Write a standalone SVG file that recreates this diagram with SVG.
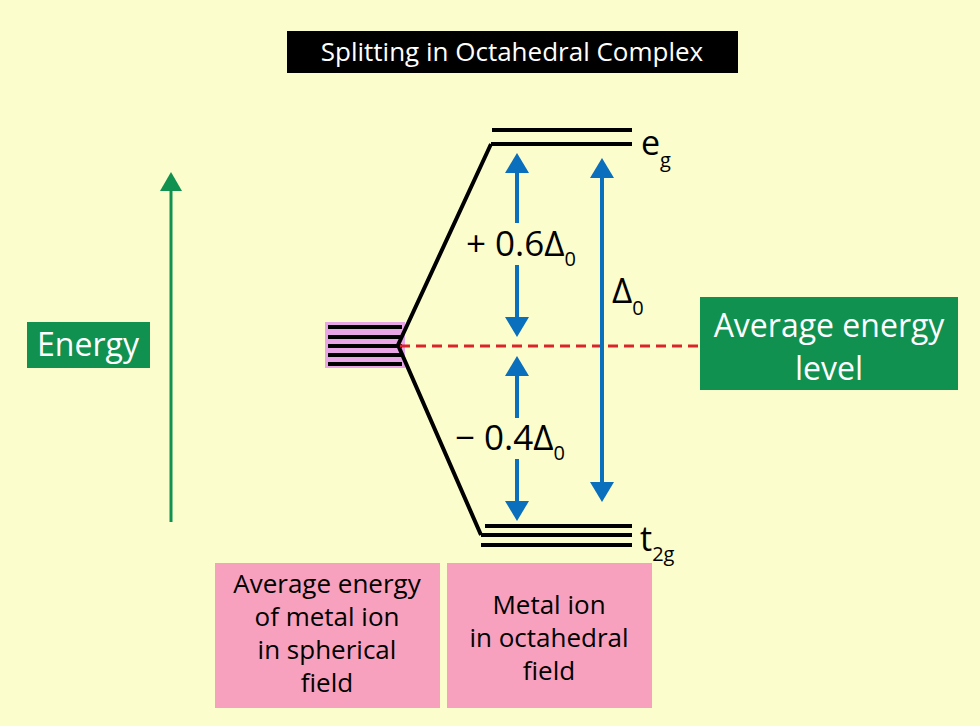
<svg xmlns="http://www.w3.org/2000/svg" width="980" height="726" viewBox="0 0 980 726">
<defs>
<style>
text{font-family:"Open Sans","Liberation Sans",sans-serif;}
.lvl{stroke:#000;stroke-width:4;fill:none}
.blue{stroke:#0a6fbd;stroke-width:4}
.bh{fill:#0a6fbd}
.lbl{font-size:35px;fill:#000}
.sub{font-size:20px}
.wt{fill:#fff;font-size:32px;text-anchor:middle}
.pk{fill:#000;font-size:26px;text-anchor:middle}
</style>
</defs>
<rect width="980" height="726" fill="#fbfdcc"/>
<g id="title"><rect x="287" y="31" width="451" height="42" fill="#000"/><text x="512" y="61" fill="#fff" font-size="26" text-anchor="middle">Splitting in Octahedral Complex</text></g>
<g id="energy-axis"><line x1="171" y1="522" x2="171" y2="190" stroke="#119150" stroke-width="3"/><polygon points="171,172 160,191 182,191" fill="#119150"/></g>
<g id="energy"><rect x="27" y="322" width="123" height="46" fill="#119150"/><text x="88" y="356" class="wt">Energy</text></g>
<g id="avg-level"><rect x="700" y="297" width="258" height="93" fill="#119150"/><text x="829" y="337" class="wt">Average energy</text><text x="829" y="380" class="wt">level</text></g>
<g id="spherical"><rect x="325" y="322" width="80" height="46" fill="#e9a6e6"/>
<g class="lvl" stroke-width="3.5"><line x1="328" y1="327" x2="402" y2="327"/><line x1="328" y1="337" x2="402" y2="337"/><line x1="328" y1="346" x2="402" y2="346"/><line x1="328" y1="355" x2="402" y2="355"/><line x1="328" y1="364" x2="402" y2="364"/></g></g>
<g id="eg"><line class="lvl" x1="492" y1="130" x2="632" y2="130"/><line class="lvl" x1="491" y1="144" x2="632" y2="144"/><text x="641" y="155" font-size="34">e<tspan class="sub" dy="12">g</tspan></text></g>
<g id="t2g"><line class="lvl" x1="485" y1="526" x2="632" y2="526"/><line class="lvl" x1="481" y1="535" x2="632" y2="535"/><line class="lvl" x1="481" y1="545" x2="632" y2="545"/><text x="640" y="551" font-size="34">t<tspan class="sub" dy="10">2g</tspan></text></g>
<g id="connectors">
<polyline class="lvl" points="491,144 398,345 481,535"/>
<line x1="400" y1="346" x2="700" y2="346" stroke="#d9252a" stroke-width="3" stroke-dasharray="10,6"/>
<line class="blue" x1="517" y1="170" x2="517" y2="223"/><polygon class="bh" points="517,153 505,173 529,173"/>
<line class="blue" x1="517" y1="265" x2="517" y2="320"/><polygon class="bh" points="517,337 505,317 529,317"/>
<line class="blue" x1="517" y1="373" x2="517" y2="418"/><polygon class="bh" points="517,356 505,376 529,376"/>
<line class="blue" x1="517" y1="459" x2="517" y2="504"/><polygon class="bh" points="517,521 505,501 529,501"/>
<line class="blue" x1="602" y1="175" x2="602" y2="485"/><polygon class="bh" points="602,158 590,178 614,178"/><polygon class="bh" points="602,502 590,482 614,482"/>
</g>
<g id="lbl-06"><text x="466" y="256" class="lbl">+ 0.6Δ<tspan class="sub" dy="10">0</tspan></text></g>
<g id="lbl-04"><text x="455" y="450" class="lbl">− 0.4Δ<tspan class="sub" dy="10">0</tspan></text></g>
<g id="lbl-d0"><text x="612" y="303" class="lbl">Δ<tspan class="sub" dy="12">0</tspan></text></g>
<g id="box-sph"><rect x="215" y="563" width="225" height="145" fill="#f7a1be"/><text x="327" y="593" class="pk">Average energy</text><text x="327" y="626" class="pk">of metal ion</text><text x="327" y="659" class="pk">in spherical</text><text x="327" y="692" class="pk">field</text></g>
<g id="box-oct"><rect x="447" y="563" width="205" height="145" fill="#f7a1be"/><text x="549" y="614" class="pk">Metal ion</text><text x="549" y="647" class="pk">in octahedral</text><text x="549" y="680" class="pk">field</text></g>
</svg>
